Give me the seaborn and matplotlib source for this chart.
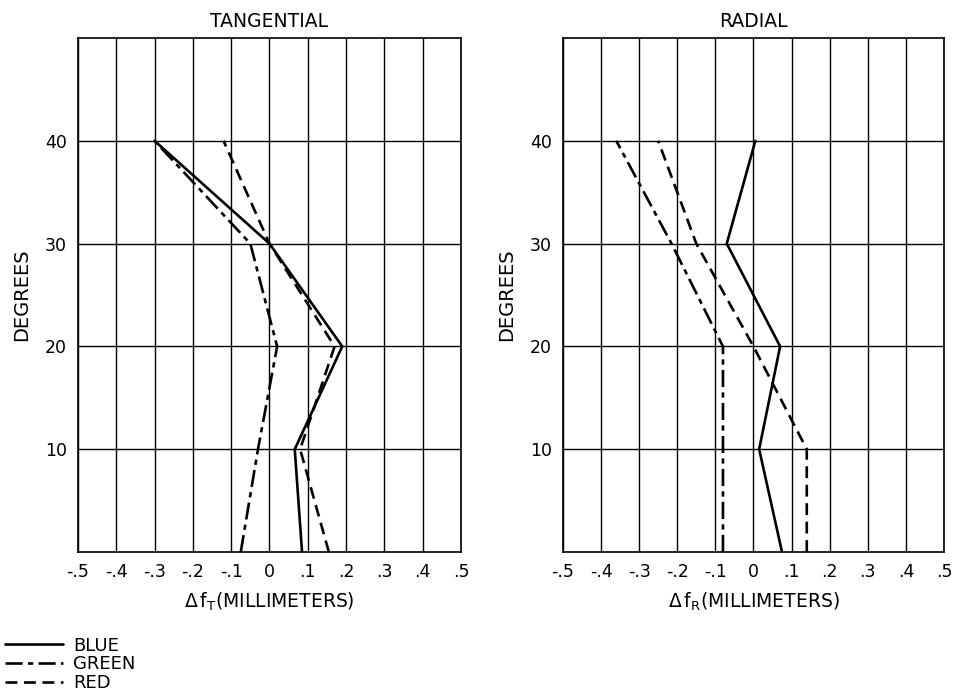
import numpy as np
import pandas as pd
import matplotlib
matplotlib.use("Agg")
import matplotlib.pyplot as plt
from matplotlib.lines import Line2D
import seaborn as sns

# values
degrees = [0, 10, 20, 30, 40]

tan_blue = [0.085, 0.066, 0.19, 0.0, -0.30]
tan_green = [-0.075, -0.03, 0.02, -0.05, -0.30]
tan_red = [0.155, 0.08, 0.17, 0.0, -0.12]

rad_blue = [0.075, 0.015, 0.07, -0.07, 0.005]
rad_green = [-0.08, -0.08, -0.08, -0.215, -0.36]
rad_red = [0.14, 0.14, 0.0, -0.15, -0.25]

x_ticks = [-0.5, -0.4, -0.3, -0.2, -0.1, 0.0, 0.1, 0.2, 0.3, 0.4, 0.5]
x_labels = ["-.5", "-.4", "-.3", "-.2", "-.1", "0", ".1", ".2", ".3", ".4", ".5"]
y_ticks = [10, 20, 30, 40]
colors = ["BLUE", "GREEN", "RED"]


def make_frame(blue, green, red):
    rows = []
    for name, vals in zip(colors, [blue, green, red]):
        for d, v in zip(degrees, vals):
            rows.append({"degrees": d, "shift": v, "color": name})
    return pd.DataFrame(rows)


sns.set_style("white")
plt.rcParams["font.family"] = ["DejaVu Sans"]
plt.rcParams["mathtext.fontset"] = "dejavusans"
plt.rcParams["text.color"] = "black"
plt.rcParams["axes.labelcolor"] = "black"
plt.rcParams["xtick.color"] = "black"
plt.rcParams["ytick.color"] = "black"

dash_map = {"BLUE": "", "GREEN": (6.5, 2, 2, 2), "RED": (4.5, 2.5)}

fig = plt.figure(figsize=(9.59, 6.94), dpi=100)
ax_t = fig.add_axes([0.0813, 0.2046, 0.3994, 0.7406])
ax_r = fig.add_axes([0.587, 0.2046, 0.3973, 0.7406])

panels = [
    (ax_t, make_frame(tan_blue, tan_green, tan_red), "TANGENTIAL",
     r"$\Delta\,\mathrm{f}_{\mathrm{T}}$(MILLIMETERS)"),
    (ax_r, make_frame(rad_blue, rad_green, rad_red), "RADIAL",
     r"$\Delta\,\mathrm{f}_{\mathrm{R}}$(MILLIMETERS)"),
]

for ax, df, title, xlab in panels:
    sns.lineplot(data=df, x="shift", y="degrees", style="color",
                 dashes=dash_map, color="black", linewidth=1.9,
                 orient="y", estimator=None, legend=False, ax=ax)
    ax.set_xlim(-0.5, 0.5)
    ax.set_ylim(0, 50)
    ax.set_xticks(x_ticks)
    ax.set_xticklabels(x_labels)
    ax.set_yticks(y_ticks)
    ax.tick_params(length=0, labelsize=12.5, pad=8)
    ax.grid(True, color="black", linewidth=1.0)
    for sp in ax.spines.values():
        sp.set_color("black")
        sp.set_linewidth(1.2)
    ax.set_title(title, fontsize=13.5, pad=8)
    ax.set_xlabel(xlab, fontsize=13.5, labelpad=7)
    ax.set_ylabel("DEGREES", fontsize=14, labelpad=10)

handles = [Line2D([], [], color="black", linewidth=1.9, linestyle="-"),
           Line2D([], [], color="black", linewidth=1.9, dashes=(6.5, 2, 2, 2)),
           Line2D([], [], color="black", linewidth=1.9, dashes=(4.5, 2.5))]
fig.legend(handles, colors, loc="lower left", bbox_to_anchor=(-0.012, -0.021),
           frameon=False, fontsize=13, handlelength=3.2, handletextpad=0.6,
           labelspacing=0.05)

fig.savefig("out.png", dpi=100, facecolor="white")
